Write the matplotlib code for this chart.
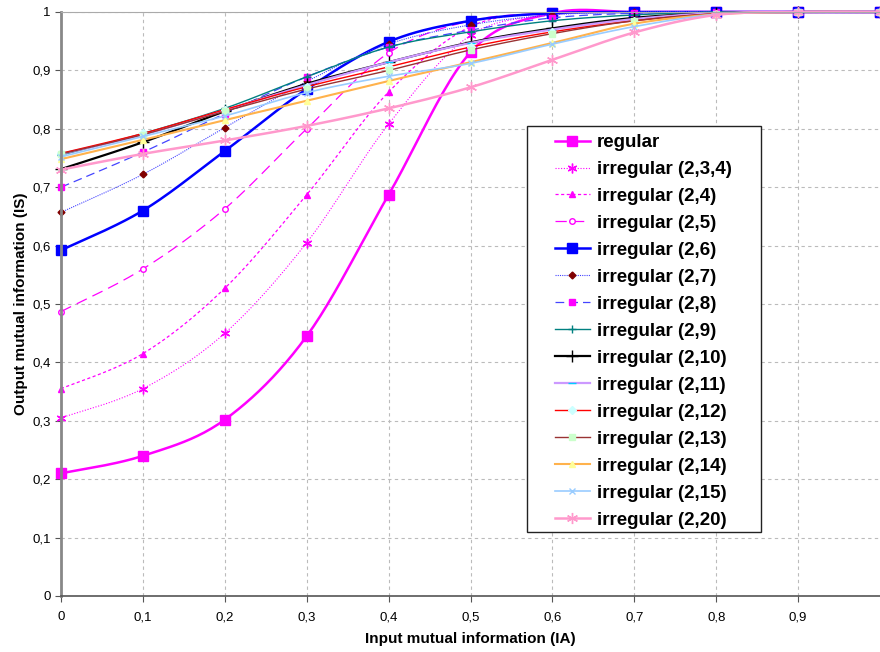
import numpy as np
import matplotlib
matplotlib.use("Agg")
import matplotlib.pyplot as plt
from matplotlib.ticker import FuncFormatter
from matplotlib.patches import Rectangle

plt.rcParams['font.family'] = ['Liberation Sans', 'DejaVu Sans']

ia = [0, 0.1, 0.2, 0.3, 0.4, 0.5, 0.6, 0.7, 0.8, 0.9, 1.0]

regular = [0.21, 0.24, 0.302, 0.445, 0.687, 0.931, 0.998, 1, 1, 1, 1]
irr_234 = [0.305, 0.355, 0.45, 0.605, 0.808, 0.96, 0.995, 1, 1, 1, 1]
irr_24 = [0.355, 0.415, 0.527, 0.687, 0.863, 0.975, 0.998, 1, 1, 1, 1]
irr_25 = [0.487, 0.56, 0.663, 0.80, 0.93, 0.985, 0.998, 1, 1, 1, 1]
irr_26 = [0.592, 0.66, 0.762, 0.868, 0.949, 0.985, 0.998, 1, 1, 1, 1]
irr_27 = [0.657, 0.722, 0.802, 0.881, 0.945, 0.978, 0.995, 1, 1, 1, 1]
irr_28 = [0.70, 0.76, 0.826, 0.889, 0.94, 0.969, 0.99, 0.998, 1, 1, 1]
irr_29 = [0.755, 0.792, 0.835, 0.889, 0.94, 0.966, 0.985, 0.995, 1, 1, 1]
irr_210 = [0.731, 0.777, 0.83, 0.877, 0.914, 0.948, 0.972, 0.99, 0.998, 1, 1]
irr_211 = [0.757, 0.79, 0.832, 0.875, 0.914, 0.947, 0.97, 0.988, 0.998, 1, 1]
irr_212 = [0.758, 0.792, 0.833, 0.872, 0.906, 0.94, 0.966, 0.985, 0.997, 1, 1]
irr_213 = [0.757, 0.79, 0.83, 0.868, 0.90, 0.935, 0.963, 0.985, 0.997, 1, 1]
irr_214 = [0.748, 0.781, 0.815, 0.848, 0.882, 0.914, 0.947, 0.98, 0.996, 1, 1]
irr_215 = [0.752, 0.787, 0.822, 0.862, 0.89, 0.912, 0.945, 0.975, 0.996, 1, 1]
irr_220 = [0.73, 0.757, 0.78, 0.805, 0.835, 0.871, 0.918, 0.965, 0.995, 1, 1]

labels = ['regular', 'irregular (2,3,4)', 'irregular (2,4)', 'irregular (2,5)',
          'irregular (2,6)', 'irregular (2,7)', 'irregular (2,8)', 'irregular (2,9)',
          'irregular (2,10)', 'irregular (2,11)', 'irregular (2,12)', 'irregular (2,13)',
          'irregular (2,14)', 'irregular (2,15)', 'irregular (2,20)']
series = [regular, irr_234, irr_24, irr_25, irr_26, irr_27, irr_28, irr_29,
          irr_210, irr_211, irr_212, irr_213, irr_214, irr_215, irr_220]

asterisk = (6, 2, 0)
# (line colour, lw, dashes, marker, marker size, marker face, marker edge)
styles = [
    ('#FF00FF', 1.8, None, 's', 7, '#FF00FF', '#FF00FF'),
    ('#FF00FF', 0.8, (1, 1.5), asterisk, 7, '#FF00FF', '#FF00FF'),
    ('#FF00FF', 0.9, (2.5, 2), '^', 5, '#FF00FF', '#FF00FF'),
    ('#FF00FF', 0.9, (9, 5), 'o', 4, 'white', '#FF00FF'),
    ('#0000FF', 1.8, None, 's', 7, '#0000FF', '#0000FF'),
    ('#4444FF', 0.8, (1, 1), 'D', 3.5, '#800000', '#800000'),
    ('#4444FF', 0.9, (7, 4), 's', 5, '#FF00FF', '#FF00FF'),
    ('#008080', 1.0, None, '+', 6, '#008080', '#008080'),
    ('#000000', 1.6, None, '+', 8, '#000000', '#000000'),
    ('#CC99FF', 1.6, None, '_', 6, '#00CCFF', '#00CCFF'),
    ('#FF0000', 1.0, None, 'D', 4, '#CCFFFF', '#CCFFFF'),
    ('#993333', 1.0, None, 's', 5, '#CCFFCC', '#CCFFCC'),
    ('#FFB24C', 1.5, None, '^', 5, '#FFFF99', '#FFFF99'),
    ('#99CCFF', 1.2, None, 'x', 5, '#99CCFF', '#99CCFF'),
    ('#FF99CC', 1.8, None, asterisk, 8, '#FF99CC', '#FF99CC'),
]


def smooth(x, y, n=24):
    # Bezier smoothing between points, like Excel's "smoothed line"
    x = np.asarray(x, float)
    y = np.asarray(y, float)
    px = np.concatenate([[x[0]], x, [x[-1]]])
    py = np.concatenate([[y[0]], y, [y[-1]]])
    xs, ys, marks = [], [], []
    for i in range(len(x) - 1):
        p0x, p1x, p2x, p3x = px[i:i + 4]
        p0y, p1y, p2y, p3y = py[i:i + 4]
        c1x = p1x + (p2x - p0x) / 6
        c1y = p1y + (p2y - p0y) / 6
        c2x = p2x - (p3x - p1x) / 6
        c2y = p2y - (p3y - p1y) / 6
        t = np.linspace(0, 1, n, endpoint=False)
        b0 = (1 - t) ** 3
        b1 = 3 * (1 - t) ** 2 * t
        b2 = 3 * (1 - t) * t ** 2
        b3 = t ** 3
        marks.append(len(xs))
        xs.extend(b0 * p1x + b1 * c1x + b2 * c2x + b3 * p2x)
        ys.extend(b0 * p1y + b1 * c1y + b2 * c2y + b3 * p2y)
    marks.append(len(xs))
    xs.append(x[-1])
    ys.append(y[-1])
    return np.array(xs), np.array(ys), marks


fig = plt.figure(figsize=(8.8, 6.52), dpi=100)
ax = fig.add_axes([61 / 880, 56 / 652, 819 / 880, 584 / 652])

for vals, lab, st in zip(series, labels, styles):
    col, lw, dash, mk, ms, mfc, mec = st
    sx, sy, marks = smooth(ia, vals)
    line, = ax.plot(sx, sy, color=col, lw=lw, marker=mk, markersize=ms,
                    markerfacecolor=mfc, markeredgecolor=mec, markeredgewidth=1,
                    markevery=marks, label=lab, clip_on=False)
    if dash is not None:
        line.set_dashes(dash)

ax.set_xlim(0, 1)
ax.set_ylim(0, 1)
ax.set_xticks(np.arange(0, 1.0, 0.1))
ax.set_yticks(np.arange(0, 1.01, 0.1))
fmt = FuncFormatter(lambda v, p: ('%g' % round(v, 1)).replace('.', ','))
ax.xaxis.set_major_formatter(fmt)
ax.yaxis.set_major_formatter(fmt)
ax.tick_params(axis='both', labelsize=9.5, length=4, color='#555555')
ax.tick_params(axis='x', pad=7)

ax.grid(True, color='#BBBBBB', linestyle=(0, (3, 3)), linewidth=0.8)
ax.set_axisbelow(True)

ax.spines['left'].set_color('#888888')
ax.spines['left'].set_linewidth(2)
ax.spines['bottom'].set_color('#555555')
ax.spines['bottom'].set_linewidth(1.2)
ax.spines['top'].set_color('#AAAAAA')
ax.spines['top'].set_linewidth(0.8)
ax.spines['right'].set_visible(False)

ax.set_xlabel('Input mutual information (IA)', fontsize=11, fontweight='bold', labelpad=6)
ax.set_ylabel('Output mutual information (IS)', fontsize=11, fontweight='bold', labelpad=3)

# legend box drawn separately so the padding matches the original
bx0, bx1 = (527 - 61) / 819, (761 - 61) / 819
by0, by1 = (596 - 532) / 584, (596 - 126) / 584
ax.add_patch(Rectangle((bx0, by0), bx1 - bx0, by1 - by0, transform=ax.transAxes,
                       facecolor='white', edgecolor='#222222', lw=1.0,
                       zorder=4.5, clip_on=False))
leg = ax.legend(loc='upper left', bbox_to_anchor=((555 - 61) / 819, (596 - 134) / 584),
                prop={'weight': 'bold', 'size': 13.5}, frameon=False,
                handlelength=1.85, labelspacing=0.525, borderpad=0, handletextpad=0.4,
                borderaxespad=0)
leg.set_zorder(5)

fig.savefig('out.png', dpi=100)
